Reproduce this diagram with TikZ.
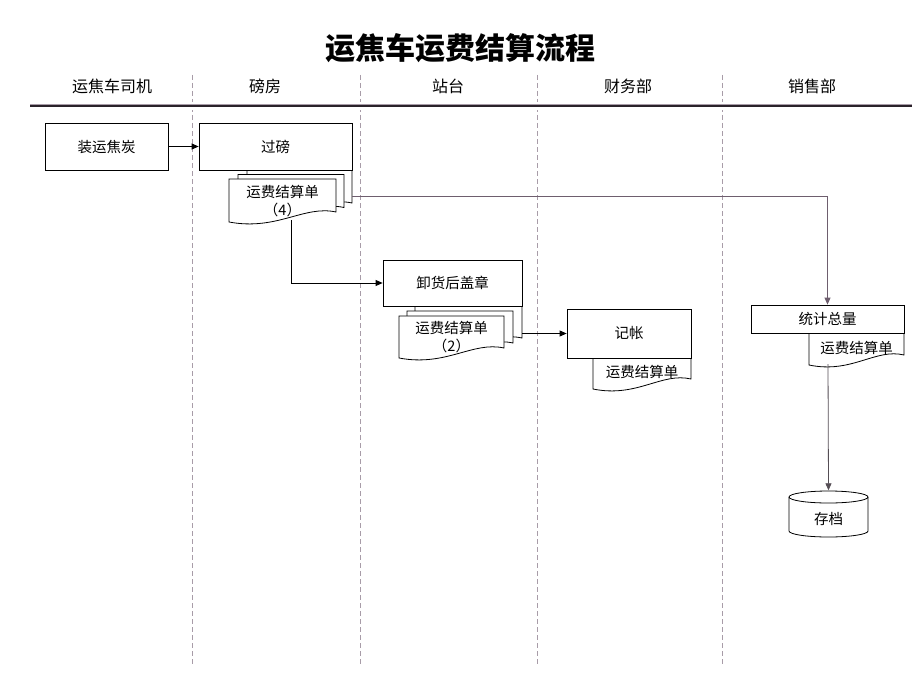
\documentclass[tikz,border=0pt]{standalone}
\usepackage{fontspec}
\setmainfont{Liberation Serif}
\newfontfamily\cjk{Noto Sans CJK SC}
\usetikzlibrary{arrows.meta}
\definecolor{lanec}{HTML}{A89CA8}
\definecolor{purpl}{HTML}{6E5E6E}
\definecolor{headc}{HTML}{2A222A}
\tikzset{
 box/.style={draw=black, fill=white, line width=0.8pt, font=\cjk\fontsize{14.5}{17}\selectfont, inner sep=0pt},
 lbl/.style={font=\cjk\fontsize{14.5}{18}\selectfont, align=center, inner sep=0pt},
 docsty/.style={draw=black, fill=white, line width=0.8pt},
 conn/.style={line width=0.8pt, -{Triangle[length=7pt,width=6pt]}},
 lanesty/.style={draw=lanec, line width=0.8pt, dash pattern=on 5pt off 3pt},
 headsty/.style={font=\cjk\fontsize{16}{18}\selectfont},
}
% \docpath{left}{top}{right}{bottom-left}
\newcommand{\docpath}[4]{%
  \filldraw[docsty] (#1,#2) -- (#3,#2) -- (#3,{#4-10})
    .. controls ({#3-0.3*(#3-#1)},{#4-17}) and ({#1+0.45*(#3-#1)},{#4+9}) .. (#1,#4) -- cycle;}
\begin{document}
\begin{tikzpicture}[x=1pt,y=-1pt]
\useasboundingbox[fill=white] (0,0) rectangle (920,690);

% title
\node[font=\cjk\bfseries\fontsize{30}{32}\selectfont] (title) at (460,48) {运焦车运费结算流程};

% lane dividers
\foreach \x in {192,360,537,722}
  \draw[lanesty] (\x,75) -- (\x,665);

% header line
\fill[white] (30,102) rectangle (912,110);
\draw[draw=lanec, line width=0.8pt] (30,104.6) -- (912,104.6);
\draw[draw=headc, line width=1.4pt] (30,106) -- (912,106);

% lane headings
\node[headsty] (h1) at (112,86) {运焦车司机};
\node[headsty] (h2) at (265,86) {磅房};
\node[headsty] (h3) at (448,86) {站台};
\node[headsty] (h4) at (628,86) {财务部};
\node[headsty] (h5) at (812,86) {销售部};

% document stack (4)
\docpath{247}{170}{352}{213}
\docpath{238}{174.5}{344}{217.5}
\docpath{229}{179}{336}{222}
\node[lbl] (d4) at (282.5,201) {运费结算单\\（4）};
\coordinate (d4out) at (352,196);
\coordinate (d4bot) at (291,220);

% document stack (2)
\docpath{415}{306}{522}{348}
\docpath{407}{311}{513}{353}
\docpath{399}{316}{504}{358}
\node[lbl] (d2) at (451.5,337) {运费结算单\\（2）};
\coordinate (d2out) at (522,333.5);

% single documents
\docpath{593}{358}{691}{389}
\node[lbl] (dj) at (642,371.5) {运费结算单};
\docpath{809}{333}{904}{365}
\node[lbl] (dt) at (856.5,347.5) {运费结算单};
\coordinate (dtbot) at (828,364);

% process boxes
\node[box, minimum width=123pt, minimum height=47pt] (zy) at (106.5,146.5) {装运焦炭};
\node[box, minimum width=153pt, minimum height=47pt] (gb) at (275.5,146.5) {过磅};
\node[box, minimum width=139pt, minimum height=46pt] (xh) at (452.5,283) {卸货后盖章};
\node[box, minimum width=124pt, minimum height=49pt] (jz) at (629,333.5) {记帐};
\node[box, minimum width=153pt, minimum height=28pt] (tj) at (827.5,319) {统计总量};

% cylinder 存档
\filldraw[docsty] (789,497) -- (789,531) arc[start angle=180, end angle=0, x radius=39.5, y radius=6]
  -- (868,497) arc[start angle=0, end angle=-180, x radius=39.5, y radius=6] -- cycle;
\draw[line width=0.8pt] (789,497) arc[start angle=180, end angle=0, x radius=39.5, y radius=6];
\node[lbl, minimum width=79pt, minimum height=47pt] (cd) at (828.5,514) {};
\node[lbl] (cdt) at (828.5,519) {存档};

% connectors
\draw[conn] (zy.east) -- (gb.west);
\draw[conn, draw=purpl] (d4out) -| (tj.north);
\draw[conn] (d4bot) |- (xh.west);
\draw[conn] (d2out) -- (jz.west);
\draw[conn, draw=headc!80] (dtbot) -- (cd.north);
\end{tikzpicture}
\end{document}
